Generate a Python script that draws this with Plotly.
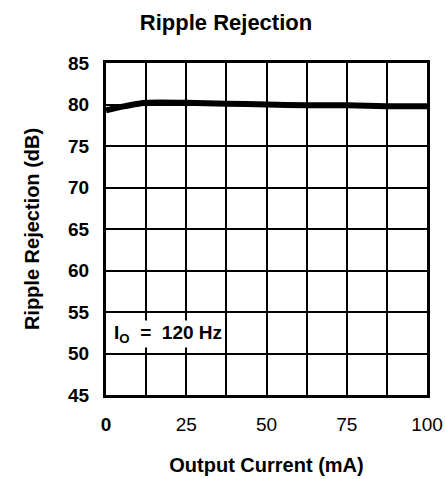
import plotly.graph_objects as go

# Data
current_ma = [0, 6, 12.5, 25, 37.5, 50, 62.5, 75, 87.5, 100]
ripple_db = [79.3, 79.8, 80.2, 80.2, 80.1, 80.0, 79.9, 79.9, 79.8, 79.8]

x_grid_vals = [0, 12.5, 25, 37.5, 50, 62.5, 75, 87.5, 100]
x_tick_text = ["<b>0</b>", "", "25", "", "50", "", "75", "", "100"]
y_tick_vals = [45, 50, 55, 60, 65, 70, 75, 80, 85]

FONT = "Liberation Sans, Arial, sans-serif"

fig = go.Figure()
fig.add_trace(go.Scatter(
    x=current_ma, y=ripple_db, mode="lines",
    line=dict(color="black", width=6, shape="spline", smoothing=0.8),
    showlegend=False, hoverinfo="skip",
))

fig.add_annotation(
    x=1.8, y=52.4, xref="x", yref="y", xanchor="left", yanchor="middle",
    text="<b>I<sub>O</sub>  =  120 Hz</b>", showarrow=False,
    font=dict(family=FONT, size=19, color="black"),
    bgcolor="white", borderpad=1,
)

fig.update_layout(
    width=445, height=479,
    margin=dict(l=106, r=18, t=63, b=84),
    paper_bgcolor="white", plot_bgcolor="white",
    font=dict(family=FONT, color="black"),
    hovermode=False,
    title=dict(
        text="<b>Ripple Rejection</b>", x=226 / 445, xref="container", xanchor="center",
        y=1 - 22 / 479, yref="container", yanchor="middle",
        font=dict(family=FONT, size=22, color="black"),
    ),
)

fig.update_xaxes(
    range=[0, 100], tickmode="array", tickvals=x_grid_vals, ticktext=x_tick_text,
    showgrid=True, gridcolor="black", gridwidth=1.5,
    showline=True, linecolor="black", linewidth=3, mirror=True,
    ticks="", ticklabelstandoff=10, automargin=False,
    tickfont=dict(family=FONT, size=19, color="black"),
    title=dict(text="<b>Output Current (mA)</b>", standoff=25,
               font=dict(family=FONT, size=20, color="black")),
    zeroline=False,
)
fig.update_yaxes(
    range=[45, 85], tickmode="array", tickvals=y_tick_vals,
    showgrid=True, gridcolor="black", gridwidth=1.5,
    showline=True, linecolor="black", linewidth=3, mirror=True,
    ticks="", ticklabelstandoff=10, automargin=False,
    tickfont=dict(family=FONT, size=19, color="black", weight="bold"),
    title=dict(text="<b>Ripple Rejection (dB)</b>", standoff=24,
               font=dict(family=FONT, size=20, color="black")),
    zeroline=False,
)

fig.write_html(
    "out.html",
    config={"displayModeBar": False, "responsive": False},
    post_script=(
        "document.body.style.margin='0';document.body.style.padding='0';"
        "document.body.style.overflow='hidden';"
        "document.documentElement.style.overflow='hidden';"
    ),
)
